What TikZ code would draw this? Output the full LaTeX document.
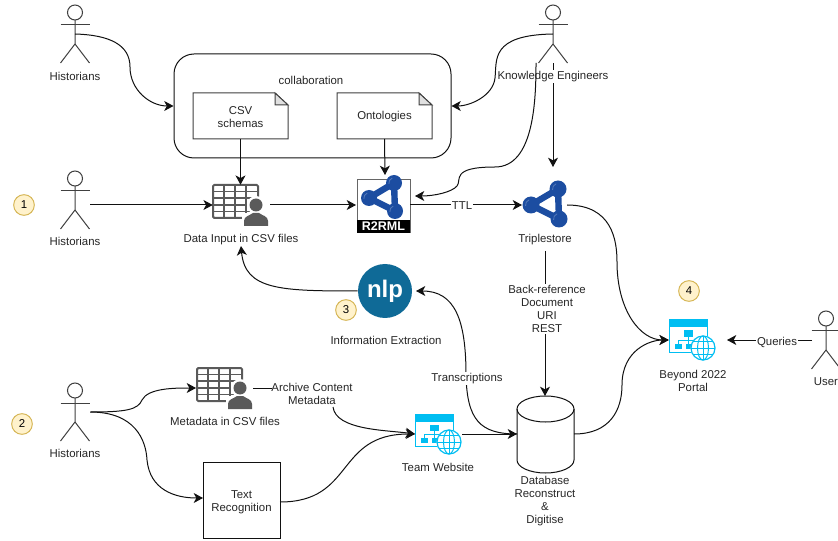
\documentclass[tikz,border=0pt]{standalone}
\usepackage{fontspec}
\setmainfont{Liberation Sans}
\usetikzlibrary{arrows.meta,calc}
\definecolor{lin}{HTML}{111111}
\definecolor{icongray}{HTML}{5A5A5A}
\definecolor{rdfblue}{HTML}{1C4DA1}
\definecolor{nlpblue}{HTML}{0F6A97}
\definecolor{webcyan}{HTML}{00BEF2}
\definecolor{badgefill}{HTML}{FFF2CC}
\definecolor{badgeline}{HTML}{D6B656}
\tikzset{
  conn/.style={draw=lin,line width=.75pt,-{Stealth[length=7pt,width=7.5pt,inset=2pt]}},
  plain/.style={draw=lin,line width=.75pt},
  txt/.style={font=\fontsize{8.55}{9.75}\selectfont,align=center,inner sep=1pt,text=black!85,yshift=-.6pt},
  lab/.style={txt,fill=white},
  actorbox/.style={minimum width=22.5pt,minimum height=43.5pt,inner sep=0pt},
  iconbox/.style={inner sep=0pt},
  badge/.style={circle,draw=badgeline,fill=badgefill,line width=.75pt,minimum size=15.5pt,inner sep=0pt,font=\fontsize{8.55}{9.75}\selectfont},
  thinline/.style={draw=black!75,line width=.75pt},
}
\newcommand{\actorfig}[3]{% name, x, top y
  \node[actorbox] (#1) at (#2,#3+29) {};
  \draw[thinline] (#2,#3+7.5) circle (7.5);
  \draw[thinline] (#2,#3+15) -- (#2,#3+39) -- (#2-14.5,#3+58);
  \draw[thinline] (#2,#3+39) -- (#2+14.5,#3+58);
  \draw[thinline] (#2-14.5,#3+20) -- (#2+14.5,#3+20);
}
\newcommand{\gridicon}[3]{% name, x, y of grid top left
  \node[iconbox,minimum width=41.25pt,minimum height=30.75pt] (#1) at (#2+27.5,#3+20.5) {};
  \begin{scope}[shift={(#2,#3)}]
    \draw[icongray,line width=1.5pt,rounded corners=1pt] (0,0) rectangle (45,33);
    \foreach \u in {11,22,33} \draw[icongray,line width=1.1pt] (\u,0) -- (\u,33);
    \foreach \v in {6.6,13.2,19.8,26.4} \draw[icongray,line width=1.1pt] (0,\v) -- (45,\v);
    \fill[white] (43,20) circle (9);
    \fill[white] (29,28) rectangle (55,41);
    \fill[icongray] (43,20) circle (6.5);
    \fill[icongray] (31,41) -- (31,36) .. controls (31,31) and (37,30.5) .. (40,28) -- (46,28) .. controls (49,30.5) and (55,31) .. (55,36) -- (55,41) -- cycle;
  \end{scope}
}
\newcommand{\webicon}[3]{% name, x, y of window top left
  \node[iconbox,minimum width=34.5pt,minimum height=30pt] (#1) at (#2+23,#3+20) {};
  \begin{scope}[shift={(#2,#3)}]
    \draw[webcyan,line width=.75pt] (0,0) rectangle (38,32);
    \fill[webcyan] (0,0) rectangle (38,7.5);
    \fill[webcyan] (15,10.5) rectangle (24,17);
    \fill[webcyan] (6,23.5) rectangle (13,29);
    \fill[webcyan] (17,23.5) rectangle (24,29);
    \draw[webcyan,line width=.75pt] (19.5,17) -- (19.5,23.5) (9.5,23.5) -- (9.5,20.5) -- (30,20.5);
    \fill[white] (34,28) circle (12.5);
    \draw[webcyan,line width=.9pt] (34,28) circle (12);
    \draw[webcyan,line width=.75pt] (34,28) ellipse (5.5 and 12);
    \draw[webcyan,line width=.75pt] (34,16) -- (34,40) (22,28) -- (46,28) (24,21.5) -- (44,21.5) (24,34.5) -- (44,34.5);
  \end{scope}
}
\newcommand{\rdfgraph}[7]{% left, top, bottom centres; radius
  \draw[rdfblue,line width=4.8pt,line join=round] (#1,#2) -- (#3,#4) -- (#5,#6) -- cycle;
  \foreach \p/\q in {#1/#2,#3/#4,#5/#6} {
    \fill[rdfblue] (\p,\q) circle (#7);
    \draw[white,opacity=.25,line width=.6pt] (\p,\q) ++(170:#7*.65) arc[start angle=170,end angle=250,radius=#7*.65];
  }
}
\begin{document}
\begin{tikzpicture}[x=.75pt,y=-.75pt]
\useasboundingbox (0,0) rectangle (838,541);
\fill[white] (0,0) rectangle (838,541);

% actors
\actorfig{hone}{75}{5}
\actorfig{htwo}{75}{171}
\actorfig{hthree}{75}{383}
\actorfig{ke}{553}{5}
\actorfig{usr}{826}{311}
\node[txt] (honel) at (75,76) {Historians};
\node[txt] (htwol) at (75,241) {Historians};
\node[txt] (hthreel) at (75,453) {Historians};
\node[txt] (usrl) at (826,381) {User};

% collaboration
\node[draw=lin,line width=.75pt,rounded corners=15pt,minimum width=207.75pt,minimum height=78pt,inner sep=0pt] (collab) at (312.5,106) {};
\node[txt] (collabl) at (311,80) {collaboration};
\foreach \a/\b in {193/288,337/432} {
  \draw[thinline,fill=white] (\a,93) -- (\b-13,93) -- (\b,105) -- (\b,139) -- (\a,139) -- cycle;
  \draw[thinline,fill=black!12] (\b-13,93) -- (\b,105) -- (\b-13,105) -- cycle;
}
\node[txt,minimum width=71.25pt,minimum height=34.5pt] (csvnote) at (240.5,116) {CSV\\schemas};
\node[txt,minimum width=71.25pt,minimum height=34.5pt] (ontnote) at (384.5,116) {Ontologies};

% icons
\gridicon{csvin}{213}{185}
\node[txt] (csvinl) at (241,239) {Data Input in CSV files};
\gridicon{csvmeta}{197}{368}
\node[txt] (csvmetal) at (225,421) {Metadata in CSV files};

\node[draw=black!60,line width=.75pt,fill=white,minimum width=39.75pt,minimum height=39.75pt,inner sep=0pt] (rml) at (383.5,206.5) {};
\fill[black] (357,220) rectangle (410,233);
\node[inner sep=0pt,text=white,font=\fontsize{9.4}{10}\bfseries\selectfont] (rmll) at (383.5,226.5) {R2RML};
\rdfgraph{369}{198}{394}{183}{395}{211}{8}

\node[iconbox,minimum width=30pt,minimum height=33pt] (triple) at (545,204) {};
\rdfgraph{531}{205}{558}{189}{559}{219}{8.5}
\node[txt] (triplel) at (545,239) {Triplestore};

\node[circle,fill=nlpblue,text=white,minimum size=40.5pt,inner sep=0pt,font=\fontsize{18}{18}\bfseries\selectfont] (nlp) at (385,291) {nlp};
\node[txt] (nlpl) at (386,340) {Information Extraction};

\webicon{team}{415}{414}
\node[txt] (teaml) at (438,467) {Team Website};
\webicon{portal}{669}{320}
\node[txt] (portall) at (693,380.5) {Beyond 2022\\Portal};

\node[plain,draw,minimum width=57.75pt,minimum height=57pt,inner sep=0pt] (textrec) at (241.5,500) {};
\node[txt] at (241.5,501) {Text\\Recognition};

% database
\node[iconbox,minimum width=42.75pt,minimum height=57.75pt] (db) at (545.5,434.5) {};
\draw[plain,fill=white] (517,409) -- (517,460) arc[start angle=180,end angle=0,x radius=28.5,y radius=13] -- (574,409);
\draw[plain] (545.5,409) ellipse (28.5 and 13);
\node[txt] (dbl) at (545,500.5) {Database\\Reconstruct\\\&\\Digitise};

% badges
\node[badge] (b1) at (24,205) {1};
\node[badge] (b2) at (22,424) {2};
\node[badge] (b3) at (346,310) {3};
\node[badge] (b4) at (689,291) {4};

% connectors
\draw[conn] (hone.center) .. controls (110,35) and (130,45) .. (130,67) .. controls (130,90) and (150,106) .. (collab.west);
\draw[conn] (ke.center) .. controls (490,35) and (497,60) .. (495,78) .. controls (493,96) and (470,106) .. (collab.east |- 0,106);
\draw[conn] (csvnote.south |- 0,139) -- (csvin.north);
\draw[conn] (ontnote.south |- 0,139) -- (385,175);
\draw[conn] (ke.south) -- (553,167);
\node[lab] (kel) at (553,76) {Knowledge Engineers};
\draw[conn] (536,63) .. controls (536,100) and (534,167) .. (495,167) .. controls (450,167) and (462,180) .. (457,186) .. controls (452,192) and (435,196) .. (415,196);
\draw[conn] (htwo.east |- 0,205) -- (csvin.west |- 0,205);
\draw[conn] (270,205) -- (356,205);
\coordinate (rmlout) at (410,205);
\draw[conn] (rmlout) -- (522,205);
\node[lab] (ttl) at (462,205) {TTL};
\draw[conn] (567,205) .. controls (612,205) and (617,240) .. (617,262) .. controls (617,310) and (640,340) .. (portal.west |- 0,340);
\draw[conn] (574,434) .. controls (610,434) and (622,410) .. (622,385) .. controls (622,350) and (650,340) .. (portal.west |- 0,340);
\draw[conn] (545,251) -- (545,396);
\node[lab] (back) at (547,308) {Back-reference\\Document\\URI\\REST};
\draw[conn] (nlp.west) .. controls (280,291) and (245,290) .. (241,246);
\draw[conn] (517,434) .. controls (480,434) and (467,420) .. (466,375) .. controls (466,320) and (455,291) .. (416,291);
\node[lab] (trans) at (467,378) {Transcriptions};
\draw[conn] (812,340) -- (727,340);
\node[lab] (queries) at (777,342) {Queries};
\draw[conn] (hthree.east) .. controls (125,412) and (138,410) .. (142,400) .. controls (148,388) and (175,388) .. (196,388);
\draw[conn] (hthree.east) .. controls (135,412) and (146,440) .. (147,460) .. controls (150,490) and (175,498) .. (203,498);
\draw[plain] (253,388) -- (272,388);
\node[txt] (arch) at (312,393.5) {Archive Content\\Metadata};
\draw[conn] (333,407) .. controls (336,430) and (385,430) .. (415,434);
\draw[conn] (280,502) .. controls (355,502) and (335,434) .. (415,434);
\draw[conn] (462,434) -- (517,434);
\end{tikzpicture}
\end{document}
